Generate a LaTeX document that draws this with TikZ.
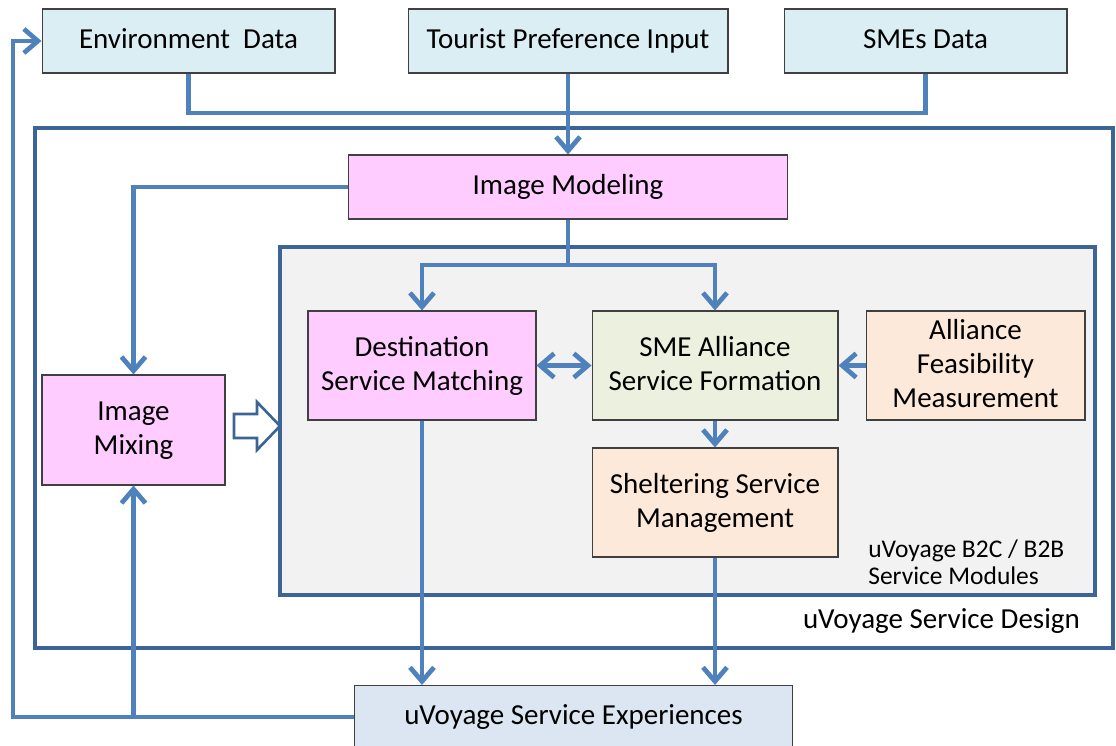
\documentclass[tikz,border=0pt]{standalone}
\usepackage{fontspec}
\setmainfont{Carlito}
\usetikzlibrary{positioning,arrows.meta,calc}
\definecolor{uvLine}{RGB}{79,129,189}
\definecolor{uvFrame}{RGB}{60,100,150}
\definecolor{uvCyan}{RGB}{219,238,243}
\definecolor{uvPink}{RGB}{255,204,255}
\definecolor{uvGreen}{RGB}{235,241,222}
\definecolor{uvPeach}{RGB}{253,233,217}
\definecolor{uvGray}{RGB}{242,242,242}
\definecolor{uvSteel}{RGB}{220,230,242}

\tikzset{
  box/.style={draw=black!75, line width=0.6pt, align=center, inner sep=2pt,
    font=\fontsize{16.5}{19.5}\selectfont, text depth=0.5ex},
  flow/.style={uvLine, line width=2.7pt},
  arr/.style={flow, -{Straight Barb[length=2.8mm,width=4.8mm]}},
  frame/.style={uvFrame, line width=1.8pt},
}

\begin{document}
\begin{tikzpicture}[x=0.02cm, y=-0.02cm]
  \useasboundingbox (0,0) rectangle (1116,746);
  \clip (0,0) rectangle (1116,746);

  % Outer frame: service design
  \draw[frame] (35,128) rectangle (1113,648);
  \node[anchor=east, font=\fontsize{16.5}{19.5}\selectfont] (designlbl) at (1086,621) {uVoyage Service Design};

  % Inner frame: service modules
  \draw[frame, fill=uvGray] (280,247) rectangle (1095,595);
  \node[anchor=west, align=left, font=\fontsize{14.5}{15.5}\selectfont, inner sep=0pt] (modlbl) at (868,562) {uVoyage B2C / B2B\\Service Modules};

  % Input boxes
  \node[box, fill=uvCyan, minimum width=5.86cm, minimum height=1.28cm] (env) at (188.5,41) {Environment\ \ Data};
  \node[box, fill=uvCyan, minimum width=6.4cm, minimum height=1.28cm] (tourist) at (568,41) {Tourist Preference Input};
  \node[box, fill=uvCyan, minimum width=5.66cm, minimum height=1.28cm] (smes) at (925.5,41) {SMEs Data};

  % Modeling and mixing
  \node[box, fill=uvPink, minimum width=8.8cm, minimum height=1.28cm] (model) at (568,187) {Image Modeling};
  \node[box, fill=uvPink, minimum width=3.66cm, minimum height=2.2cm] (mixing) at (133.5,430) {Image\\Mixing};

  % Service modules
  \node[box, fill=uvPink, minimum width=4.56cm, minimum height=2.18cm] (dest) at (422,365.5) {Destination\\Service Matching};
  \node[box, fill=uvGreen, minimum width=4.92cm, minimum height=2.18cm] (sme) at (715,365.5) {SME Alliance\\Service Formation};
  \node[box, fill=uvPeach, minimum width=4.38cm, minimum height=2.18cm] (feas) at (975.5,365.5) {Alliance\\Feasibility\\Measurement};
  \node[box, fill=uvPeach, minimum width=4.92cm, minimum height=2.18cm] (shelter) at (715,502.5) {Sheltering Service\\Management};

  % Output
  \node[box, fill=uvSteel, minimum width=8.78cm, minimum height=1.26cm] (exp) at (573.5,717) {uVoyage Service Experiences};

  % Inputs into modeling
  \coordinate (join) at (568,113);
  \draw[flow] (env.south) |- (join) -| (smes.south);
  \draw[arr] (tourist.south) -- (model.north);

  % Modeling outputs
  \draw[arr] (model.west) -| (mixing.north);
  \coordinate (split) at (568,265);
  \draw[flow] (model.south) -- (split);
  \draw[arr] (split) -| (dest.north);
  \draw[arr] (split) -| (sme.north);

  % Between modules
  \draw[flow, {Straight Barb[length=2.8mm,width=4.8mm]}-{Straight Barb[length=2.8mm,width=4.8mm]}] (dest.east) -- (sme.west);
  \draw[arr] (feas.west) -- (sme.east);
  \draw[arr] (sme.south) -- (shelter.north);

  % Down to experiences
  \draw[arr] (dest.south) -- (dest.south |- exp.north);
  \draw[arr] (shelter.south) -- (shelter.south |- exp.north);

  % Feedback loops
  \coordinate (back) at (13,717);
  \draw[arr] (exp.west) -- (back) |- (env.west);
  \draw[arr] (mixing.south |- exp.west) -- (mixing.south);

  % Hollow block arrow
  \draw[uvFrame, line width=1.5pt, fill=white, line join=miter]
    (234,414) -- (257,414) -- (257,402) -- (280,426) -- (257,450) -- (257,438) -- (234,438) -- cycle;
\end{tikzpicture}
\end{document}
